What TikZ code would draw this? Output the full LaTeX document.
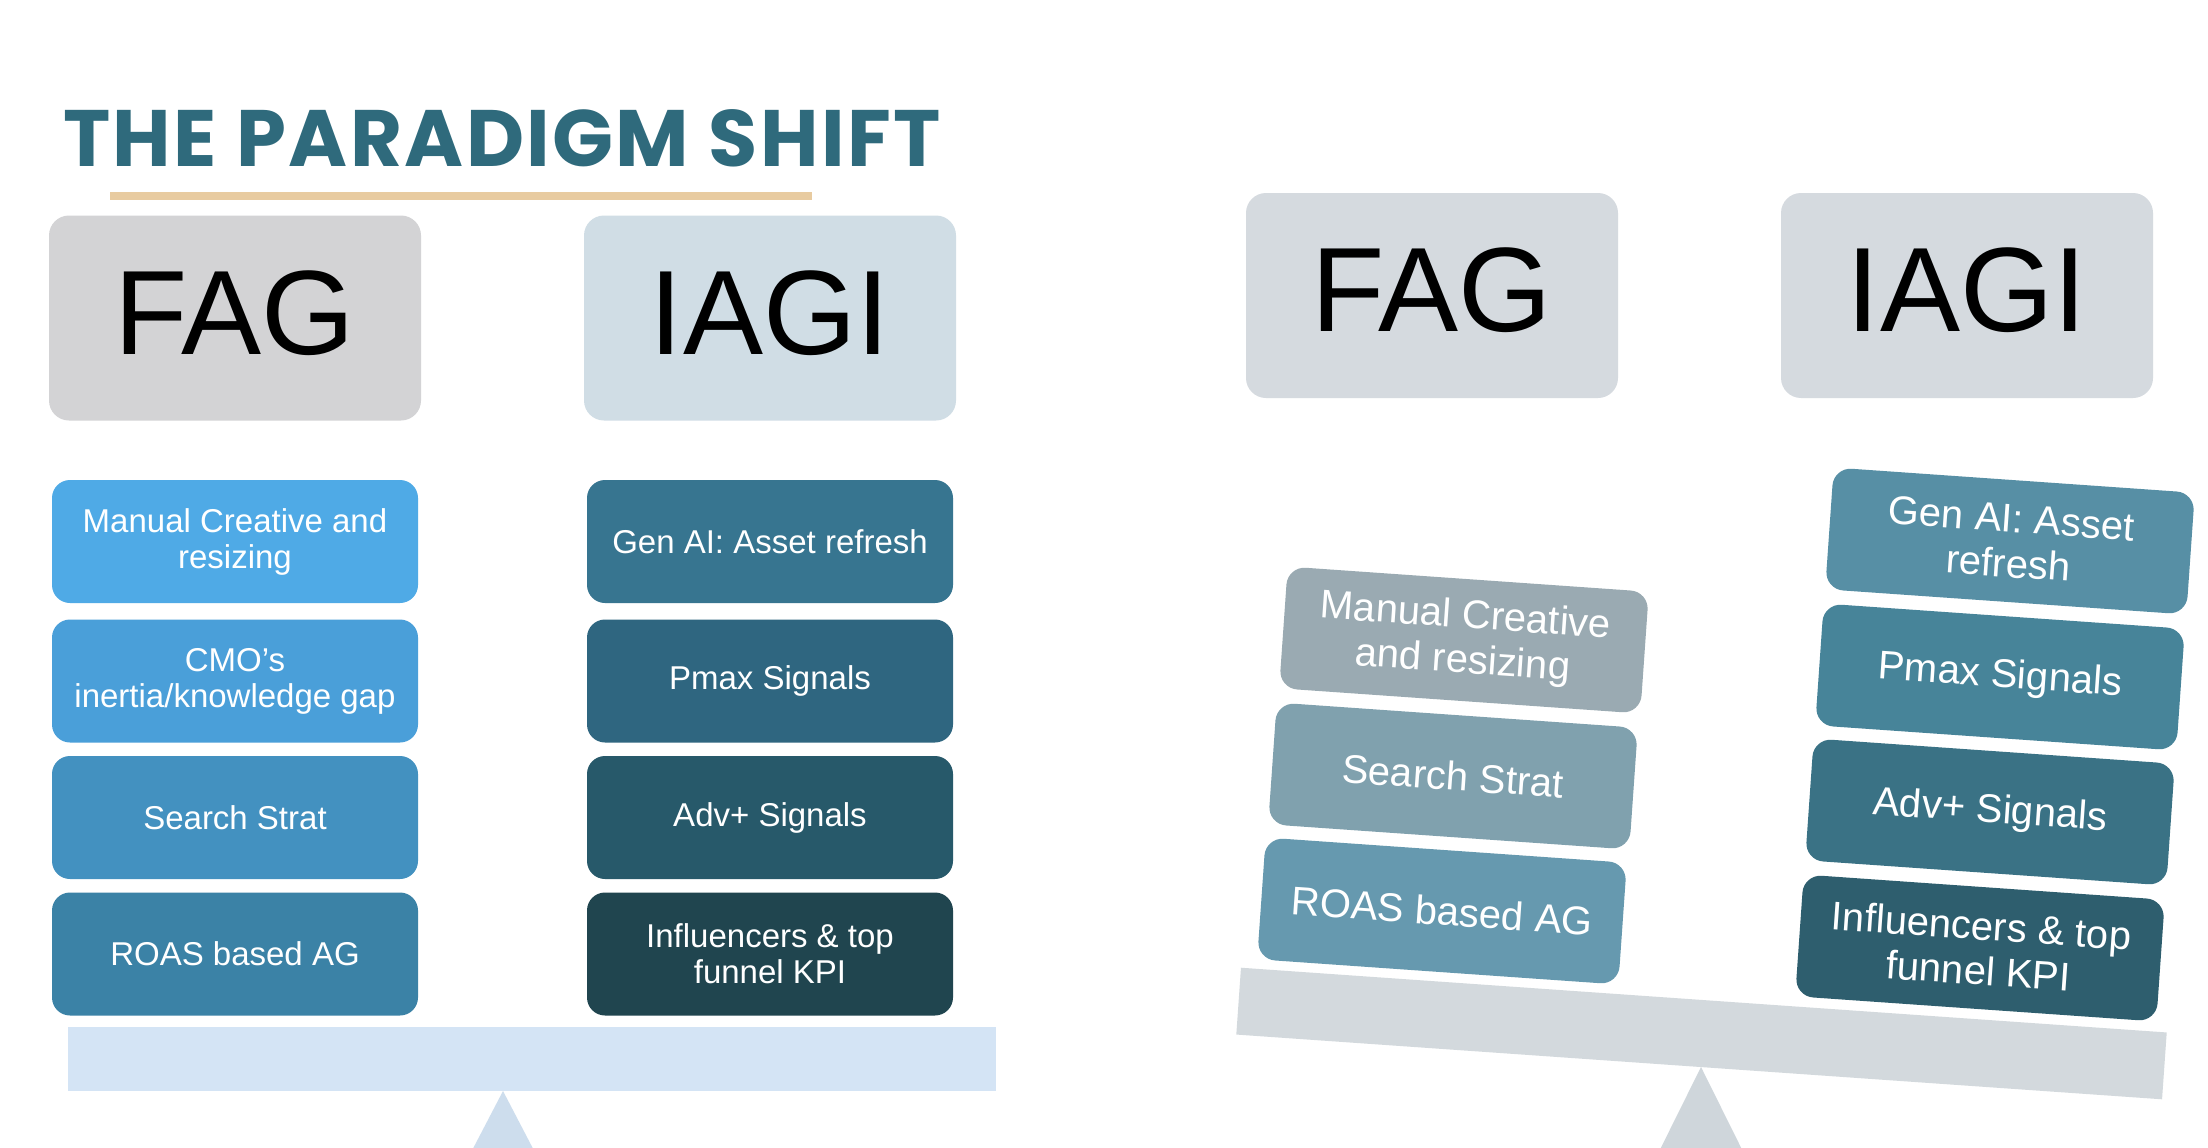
\documentclass[tikz,border=0pt]{standalone}
\usepackage{fontspec}
\setmainfont{Liberation Sans}
\newfontfamily\titlefont{Poppins}[LetterSpace=3]
\definecolor{titlecol}{HTML}{2F6A7C}
\definecolor{goldcol}{HTML}{E8CBA0}
\definecolor{hdrgrey}{HTML}{D3D3D5}
\definecolor{hdrblue}{HTML}{D0DDE5}
\definecolor{hdrright}{HTML}{D5DADF}
\definecolor{lA}{HTML}{4FAAE6}
\definecolor{lB}{HTML}{4A9FD9}
\definecolor{lC}{HTML}{4391C0}
\definecolor{lD}{HTML}{3B82A6}
\definecolor{lE}{HTML}{377590}
\definecolor{lF}{HTML}{2F6680}
\definecolor{lG}{HTML}{27596A}
\definecolor{lH}{HTML}{20454F}
\definecolor{rA}{HTML}{9AAAB2}
\definecolor{rB}{HTML}{80A1AE}
\definecolor{rC}{HTML}{6699AF}
\definecolor{rD}{HTML}{578FA5}
\definecolor{rE}{HTML}{478499}
\definecolor{rF}{HTML}{3A7285}
\definecolor{rG}{HTML}{2E5E6E}
\definecolor{beamLcol}{HTML}{D4E4F5}
\definecolor{fulLcol}{HTML}{CDDDED}
\definecolor{beamRcol}{HTML}{D3D9DD}
\definecolor{fulRcol}{HTML}{CFD6DB}
\begin{document}
\begin{tikzpicture}[x=1pt,y=-1pt,
  hdrbox/.style={rounded corners=20pt, minimum width=372pt, minimum height=205pt,
    inner sep=0pt, text=black, text height=83pt, text depth=11pt,
    font=\fontsize{120}{120}\selectfont},
  itembox/.style={rounded corners=18pt, minimum width=366pt, minimum height=123pt,
    inner sep=0pt, align=center, text=white, font=\fontsize{33}{36}\selectfont},
  titemi/.style={rounded corners=18pt, minimum width=362pt, minimum height=122pt,
    inner sep=0pt, align=center, text=white, rotate=-4,
    font=\fontsize{40}{45}\selectfont}
]
\useasboundingbox (0,0) rectangle (2208,1148);
\clip (0,0) rectangle (2208,1148);
\fill[white] (0,0) rectangle (2208,1148);

% ---------- left panel ----------
\node[anchor=base west, inner sep=0pt, text=titlecol,
  font=\titlefont\bfseries\fontsize{80}{80}\selectfont] (title) at (63,166) {THE PARADIGM SHIFT};
\node[fill=goldcol, minimum width=702pt, minimum height=8pt, inner sep=0pt] (rule) at (461,196) {};

\node[hdrbox, fill=hdrgrey] (fagL) at (235,318) {FAG};
\node[hdrbox, fill=hdrblue] (iagiL) at (770,318) {IAGI};

\node[itembox, fill=lA] (l1) at (235,541.5) {Manual Creative and\\resizing};
\node[itembox, fill=lB] (l2) at (235,681) {CMO’s\\inertia/knowledge gap};
\node[itembox, fill=lC] (l3) at (235,817.5) {Search Strat};
\node[itembox, fill=lD] (l4) at (235,954) {ROAS based AG};

\node[itembox, fill=lE] (r1) at (770,541.5) {Gen AI: Asset refresh};
\node[itembox, fill=lF] (r2) at (770,681) {Pmax Signals};
\node[itembox, fill=lG] (r3) at (770,817.5) {Adv+ Signals};
\node[itembox, fill=lH] (r4) at (770,954) {Influencers \& top\\funnel KPI};

\fill[fulLcol] (503,1091) -- (441,1210) -- (565,1210) -- cycle;
\node[fill=beamLcol, minimum width=928pt, minimum height=64pt, inner sep=0pt] (beamL) at (531.5,1058.5) {};

% ---------- right panel ----------
\node[hdrbox, fill=hdrright] (fagR) at (1432,295.5) {FAG};
\node[hdrbox, fill=hdrright] (iagiR) at (1967,295.5) {IAGI};

\fill[fulRcol] (1701,1067) -- (1630,1210) -- (1772,1210) -- cycle;
\node[fill=beamRcol, minimum width=928pt, minimum height=67pt, inner sep=0pt, rotate=-4] (beamR) at (1701.5,1033.5) {};

\node[titemi, fill=rA] (tl1) at (1464,640) {Manual Creative\\and resizing};
\node[titemi, fill=rB] (tl2) at (1453,776) {Search Strat};
\node[titemi, fill=rC] (tl3) at (1442,911) {ROAS based AG};

\node[titemi, fill=rD] (tr1) at (2010,541) {Gen AI: Asset\\refresh};
\node[titemi, fill=rE] (tr2) at (2000,677) {Pmax Signals};
\node[titemi, fill=rF] (tr3) at (1990,812) {Adv+ Signals};
\node[titemi, fill=rG] (tr4) at (1980,948) {Influencers \& top\\funnel KPI};
\end{tikzpicture}
\end{document}
